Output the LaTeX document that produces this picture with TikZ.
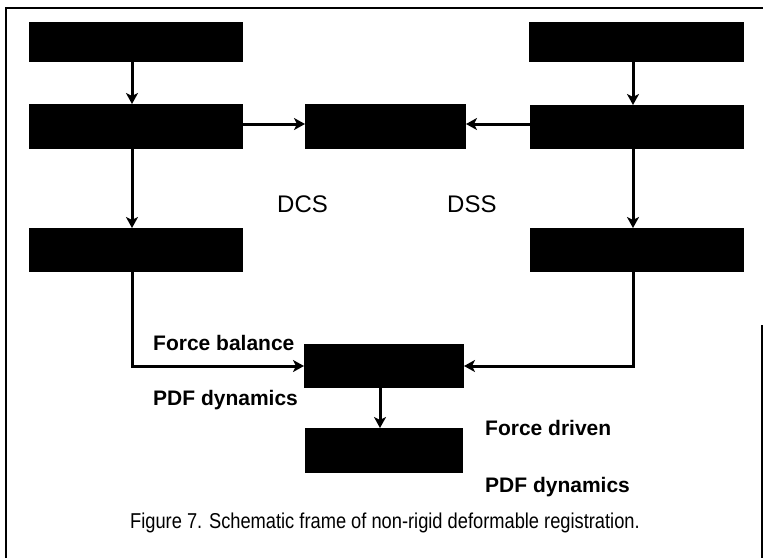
\documentclass[tikz,border=0pt]{standalone}
\usepackage{fontspec}
\setmainfont{Liberation Sans}
\newfontfamily\narrowfont[FakeStretch=0.85]{Liberation Sans}
\usetikzlibrary{arrows.meta}
\begin{document}
\begin{tikzpicture}[x=1pt,y=-1pt,
  blk/.style={fill=black,draw=none,inner sep=0pt,outer sep=0pt,anchor=north west},
  conn/.style={line width=3pt,-{Stealth[length=11pt,width=12pt,inset=3pt]}},
  lbl/.style={inner sep=0pt,anchor=base west,font=\fontsize{21}{25}\selectfont\bfseries},
  reg/.style={inner sep=0pt,anchor=base west,font=\fontsize{24}{28}\selectfont}]
\useasboundingbox (0,0) rectangle (763,558);
% frame
\draw[line width=2pt] (6,558) -- (6,8) -- (763,8);
\draw[line width=1.5pt] (762,325) -- (762,558);
% boxes
\node[blk,minimum width=214pt,minimum height=40pt] (L1) at (29,22) {};
\node[blk,minimum width=214pt,minimum height=45pt] (L2) at (29,104) {};
\node[blk,minimum width=214pt,minimum height=44pt] (L3) at (29,228) {};
\node[blk,minimum width=161pt,minimum height=45pt] (M) at (305,104) {};
\node[blk,minimum width=215pt,minimum height=40pt] (R1) at (529,22) {};
\node[blk,minimum width=214pt,minimum height=44pt] (R2) at (530,105) {};
\node[blk,minimum width=214pt,minimum height=44pt] (R3) at (530,228) {};
\node[blk,minimum width=160pt,minimum height=44pt] (B1) at (304,344) {};
\node[blk,minimum width=158pt,minimum height=45pt] (B2) at (305,428) {};
% connectors
\draw[conn] (L1.south west) ++(103,0) coordinate (a1) -- (a1 |- L2.north);
\draw[conn] (a1 |- L2.south) -- (a1 |- L3.north);
\draw[conn] (R1.south west) ++(104,0) coordinate (b1) -- (b1 |- R2.north);
\draw[conn] (b1 |- R2.south) -- (b1 |- R3.north);
\draw[conn] (L2.east |- 0,124) -- (M.west |- 0,124);
\draw[conn] (R2.west |- 0,124) -- (M.east |- 0,124);
\coordinate (lc) at (132,366);
\coordinate (rc) at (633,366);
\draw[conn] (a1 |- L3.south) -- (lc) -- (B1.west |- lc);
\draw[conn] (b1 |- R3.south) -- (rc) -- (B1.east |- rc);
\draw[conn] (B1.south west) ++(76,0) coordinate (c1) -- (c1 |- B2.north);
% labels
\node[reg] (dcs) at (277,212) {DCS};
\node[reg] (dss) at (447,212) {DSS};
\node[lbl] (fb) at (153,350) {Force balance};
\node[lbl] (pd1) at (153,405) {PDF dynamics};
\node[lbl] (fd) at (485,435) {Force driven};
\node[lbl] (pd2) at (485,492) {PDF dynamics};
\node[inner sep=0pt,anchor=base west,font=\narrowfont\fontsize{21.5}{25}\selectfont] (cap) at (130,528) {Figure 7. Schematic frame of non-rigid deformable registration.};
\end{tikzpicture}
\end{document}
